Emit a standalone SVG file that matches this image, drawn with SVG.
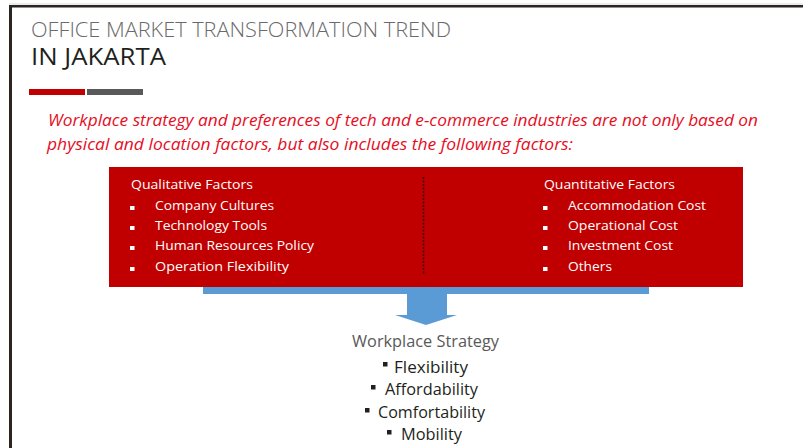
<svg xmlns="http://www.w3.org/2000/svg" width="803" height="448" viewBox="0 0 803 448">
  <style>
    text { font-family: "Open Sans", "Noto Sans", "Liberation Sans", sans-serif; }
    .t1 { font-size: 21px; fill: #6a6a6a; font-weight: 300; }
    .t2 { font-size: 23px; fill: #231f20; font-weight: 500; }
    .lead { font-size: 16.5px; fill: #e60d1e; font-style: italic; font-weight: 500; }
    .head { font-size: 13.5px; fill: #ffffff; }
    .item { font-size: 13.5px; fill: #ffffff; font-weight: 500; }
    .sq { fill: #ffffff; }
    .ws { font-size: 16px; fill: #595959; }
    .res { font-size: 16px; fill: #231f20; font-weight: 500; }
    .rsq { fill: #231f20; }
  </style>

  <rect x="0" y="0" width="803" height="448" fill="#ffffff"/>

  <!-- frame -->
  <g id="frame">
    <line x1="9" y1="4" x2="803" y2="4" stroke="#d9d9d9" stroke-width="1"/>
    <rect x="9" y="5" width="794" height="2.5" fill="#2d2422"/>
    <rect x="9" y="5" width="3" height="443" fill="#2d2422"/>
  </g>

  <!-- heading -->
  <g id="title">
    <text class="t1" x="31" y="36.5" textLength="420" lengthAdjust="spacingAndGlyphs">OFFICE MARKET TRANSFORMATION TREND</text>
    <text class="t2" x="31" y="65" textLength="135" lengthAdjust="spacingAndGlyphs">IN JAKARTA</text>
    <rect x="29" y="89" width="56" height="6" fill="#c00000"/>
    <rect x="87" y="89" width="56" height="6" fill="#595959"/>
  </g>

  <!-- lead statement -->
  <g id="lead">
    <text class="lead" x="48" y="126" textLength="710" lengthAdjust="spacingAndGlyphs">Workplace strategy and preferences of tech and e-commerce industries are not only based on</text>
    <text class="lead" x="47" y="150" textLength="526" lengthAdjust="spacingAndGlyphs">physical and location factors, but also includes the following factors:</text>
  </g>

  <!-- factors box -->
  <g id="factors">
    <rect x="109" y="167" width="634" height="120" fill="#c00000"/>
    <line x1="423.5" y1="177" x2="423.5" y2="275" stroke="#3e0a0a" stroke-width="1.5" stroke-dasharray="2 1.5"/>
  </g>

  <g id="qualitative">
    <text class="head" x="131" y="189" textLength="122" lengthAdjust="spacingAndGlyphs">Qualitative Factors</text>
    <rect class="sq" x="130" y="206" width="4.5" height="4"/>
    <text class="item" x="155" y="210" textLength="119" lengthAdjust="spacingAndGlyphs">Company Cultures</text>
    <rect class="sq" x="130" y="226" width="4.5" height="4"/>
    <text class="item" x="155" y="230" textLength="112" lengthAdjust="spacingAndGlyphs">Technology Tools</text>
    <rect class="sq" x="130" y="246" width="4.5" height="4"/>
    <text class="item" x="155" y="250" textLength="159" lengthAdjust="spacingAndGlyphs">Human Resources Policy</text>
    <rect class="sq" x="130" y="267" width="4.5" height="4"/>
    <text class="item" x="155" y="271" textLength="134" lengthAdjust="spacingAndGlyphs">Operation Flexibility</text>
  </g>

  <g id="quantitative">
    <text class="head" x="544" y="189" textLength="131" lengthAdjust="spacingAndGlyphs">Quantitative Factors</text>
    <rect class="sq" x="543" y="206" width="4.5" height="4"/>
    <text class="item" x="568" y="210" textLength="138" lengthAdjust="spacingAndGlyphs">Accommodation Cost</text>
    <rect class="sq" x="543" y="226" width="4.5" height="4"/>
    <text class="item" x="568" y="230" textLength="110" lengthAdjust="spacingAndGlyphs">Operational Cost</text>
    <rect class="sq" x="543" y="246" width="4.5" height="4"/>
    <text class="item" x="568" y="250" textLength="105" lengthAdjust="spacingAndGlyphs">Investment Cost</text>
    <rect class="sq" x="543" y="267" width="4.5" height="4"/>
    <text class="item" x="568" y="271" textLength="44" lengthAdjust="spacingAndGlyphs">Others</text>
  </g>

  <!-- connector: collecting bar and downward arrow -->
  <g id="connectors">
    <rect x="203" y="287" width="446" height="7" fill="#5b9bd5"/>
    <path d="M407 294 H447 V315 H457 L426 325 L395 315 H407 Z" fill="#5b9bd5"/>
  </g>

  <!-- outcome -->
  <g id="strategy">
    <text class="ws" x="352" y="347" textLength="147" lengthAdjust="spacingAndGlyphs">Workplace Strategy</text>
    <rect class="rsq" x="383" y="362" width="4.5" height="4.5"/>
    <text class="res" x="394" y="373" textLength="74" lengthAdjust="spacingAndGlyphs">Flexibility</text>
    <rect class="rsq" x="371" y="385" width="4.5" height="4.5"/>
    <text class="res" x="385" y="395" textLength="93" lengthAdjust="spacingAndGlyphs">Affordability</text>
    <rect class="rsq" x="365" y="408" width="4.5" height="4.5"/>
    <text class="res" x="378" y="418" textLength="107" lengthAdjust="spacingAndGlyphs">Comfortability</text>
    <rect class="rsq" x="387" y="430" width="4.5" height="4.5"/>
    <text class="res" x="401" y="440" textLength="61" lengthAdjust="spacingAndGlyphs">Mobility</text>
  </g>
</svg>
